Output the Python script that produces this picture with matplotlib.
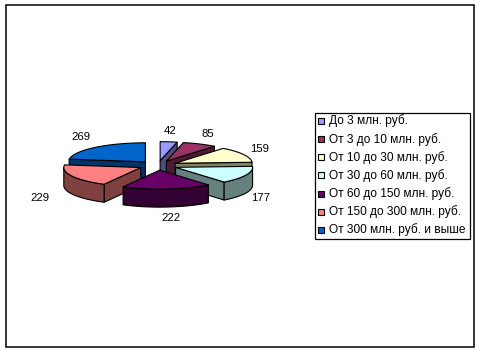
#!/usr/bin/env python3
"""Exploded 3D pie (Excel style) drawn from polygons in pixel coordinates."""
import numpy as np
import matplotlib
matplotlib.use("Agg")
import matplotlib.pyplot as plt
from matplotlib.patches import Polygon, Rectangle

labels = ["До 3 млн. руб.", "От 3 до 10 млн. руб.", "От 10 до 30 млн. руб.",
          "От 30 до 60 млн. руб.", "От 60 до 150 млн. руб.",
          "От 150 до 300 млн. руб.", "От 300 млн. руб. и выше"]
values = [42, 85, 159, 177, 222, 229, 269]
colors = ["#9999FF", "#993366", "#FFFFCC", "#CCFFFF", "#660066", "#FF8080", "#0066CC"]
label_pos = [(170, 131), (208, 134), (260, 149), (261, 198), (171, 218), (40, 198), (81, 137)]

plt.rcParams["font.family"] = ["Liberation Sans", "DejaVu Sans"]

# pie geometry, pixels
CX, CY = 158, 165.4
RX, RY = 77, 19
EXPLODE = 0.25
DEPTH = 18


def project(px, py):
    return CX + RX * px, CY - RY * py


def darker(c):
    r, g, b = matplotlib.colors.to_rgb(c)
    return (r * 0.5, g * 0.5, b * 0.5)


fig = plt.figure(figsize=(4.8, 3.51), dpi=100)
ax = fig.add_axes([0, 0, 1, 1])
ax.set_xlim(0, 480)
ax.set_ylim(351, 0)
ax.axis("off")

# outer frame
ax.add_patch(Rectangle((5.5, 4.5), 468, 342, fill=False, ec="black", lw=1.1))

edges = np.cumsum([0] + values) / sum(values) * 2 * np.pi
slices = []
for i, v in enumerate(values):
    a0, a1 = edges[i], edges[i + 1]
    mid = (a0 + a1) / 2
    ox, oy = EXPLODE * np.sin(mid), EXPLODE * np.cos(mid)
    th = np.linspace(a0, a1, 90)
    sx, sy = project(ox + np.sin(th), oy + np.cos(th))
    ax0, ay0 = project(ox, oy)
    slices.append((np.cos(mid), i, a0, a1, th, sx, sy, ax0, ay0))

# back slices first so the front ones overlap them
for _, i, a0, a1, th, sx, sy, ax0, ay0 in sorted(slices, key=lambda s: -s[0]):
    side = darker(colors[i])
    # only the cut faces that look towards the viewer
    if np.sin(a0) < 0:
        ax.add_patch(Polygon([(ax0, ay0), (sx[0], sy[0]), (sx[0], sy[0] + DEPTH), (ax0, ay0 + DEPTH)],
                             fc=side, ec="black", lw=0.8, joinstyle="round"))
    if np.sin(a1) > 0:
        ax.add_patch(Polygon([(ax0, ay0), (sx[-1], sy[-1]), (sx[-1], sy[-1] + DEPTH), (ax0, ay0 + DEPTH)],
                             fc=side, ec="black", lw=0.8, joinstyle="round"))
    arc = np.column_stack([sx, sy])
    front = arc[np.cos(th) < 0]
    if len(front) > 1:
        wall = np.vstack([front, (front + [0, DEPTH])[::-1]])
        ax.add_patch(Polygon(wall, fc=side, ec="black", lw=0.8, joinstyle="round"))
    top = np.vstack([[ax0, ay0], arc])
    ax.add_patch(Polygon(top, fc=colors[i], ec="black", lw=0.8, joinstyle="round"))

for v, (x, y) in zip(values, label_pos):
    ax.text(x, y, str(v), ha="center", va="center", fontsize=8.2, color="black")

# legend
ax.add_patch(Rectangle((314.5, 112.5), 155, 126, fc="white", ec="black", lw=0.9))
for i, (lab, c) in enumerate(zip(labels, colors)):
    y = 121 + i * 18.15
    ax.add_patch(Rectangle((317.5, y - 3), 6, 6, fc=c, ec="black", lw=0.8))
    ax.text(329, y, lab, ha="left", va="center", fontsize=8.6, color="black")

fig.savefig("out.png", dpi=100)
